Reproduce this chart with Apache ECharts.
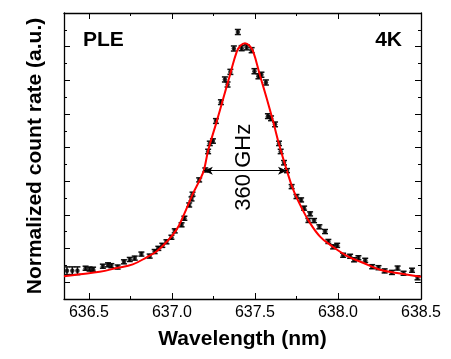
<!DOCTYPE html>
<html>
<head>
<meta charset="utf-8">
<script src="https://cdn.jsdelivr.net/npm/echarts@6/dist/echarts.min.js"></script>
<style>
  html, body { margin: 0; padding: 0; background: #fff; }
  #chart { width: 451px; height: 359px; }
</style>
</head>
<body>
<div id="chart"></div>
<script>
// PLE scan: wavelength (nm), normalized count rate (a.u.), error bar half height
const wavelengths = [
  636.368, 636.400, 636.431, 636.480, 636.504, 636.525, 636.584, 636.615, 636.635, 636.673,
  636.711, 636.746, 636.776, 636.816, 636.866, 636.896, 636.918, 636.942, 636.967, 636.997,
  637.017, 637.058, 637.075, 637.104, 637.118, 637.124, 637.164, 637.201, 637.218, 637.228,
  637.247, 637.265, 637.295, 637.319, 637.335, 637.352, 637.373, 637.397, 637.420, 637.450,
  637.480, 637.497, 637.521, 637.539, 637.566, 637.578, 637.597, 637.621, 637.645, 637.655,
  637.675, 637.693, 637.721, 637.750, 637.778, 637.796, 637.822, 637.832, 637.856, 637.888,
  637.922, 637.942, 637.971, 637.995, 638.031, 638.073, 638.097, 638.123, 638.164, 638.206,
  638.244, 638.281, 638.325, 638.359, 638.395, 638.446, 638.479
]
const counts = [
  1.68, 1.68, 1.68, 1.83, 1.78, 1.77, 1.95, 2.03, 1.98, 1.90,
  2.21, 2.35, 2.43, 2.67, 2.55, 2.82, 3.01, 3.19, 3.40, 3.67,
  4.05, 4.41, 4.80, 5.59, 5.95, 6.23, 7.08, 7.67, 8.77, 9.25,
  9.39, 10.58, 11.70, 13.05, 12.75, 13.50, 14.89, 15.87, 14.91, 14.96,
  14.79, 13.54, 13.24, 13.33, 12.87, 10.87, 10.74, 10.38, 9.25, 8.77,
  8.10, 7.63, 6.68, 6.09, 5.89, 5.40, 4.67, 5.06, 4.66, 4.29,
  4.01, 3.42, 3.10, 3.19, 2.60, 2.54, 2.33, 2.45, 2.30, 1.92,
  1.86, 1.67, 1.58, 1.84, 1.53, 1.71, 1.26
]
const errors = [
  0.23, 0.23, 0.23, 0.12, 0.12, 0.12, 0.12, 0.12, 0.12, 0.12,
  0.12, 0.12, 0.12, 0.12, 0.12, 0.12, 0.12, 0.12, 0.12, 0.12,
  0.12, 0.12, 0.12, 0.12, 0.12, 0.12, 0.12, 0.12, 0.13, 0.13,
  0.13, 0.14, 0.14, 0.15, 0.15, 0.15, 0.15, 0.15, 0.15, 0.15,
  0.15, 0.15, 0.15, 0.15, 0.15, 0.14, 0.14, 0.14, 0.13, 0.13,
  0.13, 0.12, 0.12, 0.12, 0.12, 0.12, 0.12, 0.12, 0.12, 0.12,
  0.12, 0.12, 0.12, 0.12, 0.12, 0.12, 0.12, 0.12, 0.12, 0.12,
  0.12, 0.12, 0.12, 0.12, 0.12, 0.12, 0.12
]

// red fit
const fitWavelengths = [
  636.35, 636.444, 636.565, 636.667, 636.764, 636.848, 636.909, 636.969, 637.027, 637.067,
  637.128, 637.168, 637.192, 637.219, 637.269, 637.309, 637.349, 637.390, 637.412, 637.440,
  637.467, 637.490, 637.530, 637.571, 637.610, 637.648, 637.691, 637.731, 637.782, 637.832,
  637.892, 637.953, 638.053, 638.154, 638.254, 638.355, 638.5
]
const fitCounts = [
  1.35, 1.47, 1.62, 1.84, 2.06, 2.48, 2.84, 3.40, 4.11, 4.90,
  6.29, 7.08, 7.64, 8.86, 10.53, 11.92, 13.30, 14.69, 15.05, 15.20,
  15.05, 14.69, 13.30, 11.92, 10.53, 9.09, 7.67, 6.48, 5.40, 4.51,
  3.71, 3.22, 2.57, 2.14, 1.74, 1.54, 1.32
]

const xMajorTicks = [636.5, 637.0, 637.5, 638.0, 638.5]
const xMinorTicks = [636.75, 637.25, 637.75, 638.25]
const yMajorTicks = [1, 3, 5, 7, 9, 11, 13, 15, 17]
const yMinorTicks = [2, 4, 6, 8, 10, 12, 14, 16]

// FWHM arrow (nm) and its height
const fwhmEnds = [637.192, 637.693]
const fwhmLevel = 7.63
const fwhmText = '360 GHz'

const xMin = 636.35
const xMax = 638.5
const yMin = 0
const yMax = 17
const font = '"Liberation Sans", Arial, sans-serif'

const chart = echarts.init(document.getElementById('chart'))

const gridRect = { left: 64, right: 30, top: 13, bottom: 60 }

function xAxisOf(gridIndex, position, ticks, len, main) {
  return {
    type: 'value',
    gridIndex: gridIndex,
    position: position,
    min: xMin,
    max: xMax,
    axisLine: { show: main, onZero: false, lineStyle: { color: '#000', width: 1.3 } },
    axisTick: { show: true, inside: true, length: len, customValues: ticks, lineStyle: { color: '#000', width: 1 } },
    axisLabel: { show: false },
    splitLine: { show: false }
  }
}

function yAxisOf(gridIndex, position, ticks, len, main) {
  return {
    type: 'value',
    gridIndex: gridIndex,
    position: position,
    min: yMin,
    max: yMax,
    axisLine: { show: main, onZero: false, lineStyle: { color: '#000', width: 1.3 } },
    axisTick: { show: true, inside: true, length: len, customValues: ticks, lineStyle: { color: '#000', width: 1 } },
    axisLabel: { show: false },
    splitLine: { show: false }
  }
}

const xBottom = xAxisOf(0, 'bottom', xMajorTicks, 6, true)
xBottom.axisLabel = {
  show: true,
  customValues: xMajorTicks,
  margin: 6,
  color: '#000',
  fontSize: 16,
  fontFamily: font,
  formatter: v => v.toFixed(1)
}
xBottom.name = 'Wavelength (nm)'
xBottom.nameLocation = 'middle'
xBottom.nameGap = 30
xBottom.nameTextStyle = { color: '#000', fontSize: 21, fontWeight: 'bold', fontFamily: font }

const yLeft = yAxisOf(0, 'left', yMajorTicks, 6, true)
yLeft.name = 'Normalized count rate (a.u.)'
yLeft.nameLocation = 'middle'
yLeft.nameGap = 18
yLeft.nameRotate = 90
yLeft.nameTextStyle = { color: '#000', fontSize: 21, fontWeight: 'bold', fontFamily: font }

const points = wavelengths.map((w, i) => [w, counts[i], errors[i]])
const fit = fitWavelengths.map((w, i) => [w, fitCounts[i]])

const option = {
  animation: false,
  backgroundColor: '#fff',
  grid: [
    Object.assign({}, gridRect),
    Object.assign({}, gridRect)
  ],
  xAxis: [
    xBottom,
    xAxisOf(0, 'top', xMajorTicks, 6, true),
    xAxisOf(1, 'bottom', xMinorTicks, 3, false),
    xAxisOf(1, 'top', xMinorTicks, 3, false)
  ],
  yAxis: [
    yLeft,
    yAxisOf(0, 'right', yMajorTicks, 6, true),
    yAxisOf(1, 'left', yMinorTicks, 3, false),
    yAxisOf(1, 'right', yMinorTicks, 3, false)
  ],
  series: [
    {
      type: 'custom',
      name: 'error',
      xAxisIndex: 0,
      yAxisIndex: 0,
      data: points,
      encode: { x: 0, y: 1 },
      z: 2,
      renderItem(params, api) {
        const x = api.value(0)
        const y = api.value(1)
        const e = api.value(2)
        const hi = api.coord([x, y + e])
        const lo = api.coord([x, y - e])
        const cap = 3
        const style = { stroke: '#111', lineWidth: 1.5 }
        return {
          type: 'group',
          children: [
            { type: 'line', shape: { x1: hi[0], y1: hi[1], x2: lo[0], y2: lo[1] }, style: style },
            { type: 'line', shape: { x1: hi[0] - cap, y1: hi[1], x2: hi[0] + cap, y2: hi[1] }, style: style },
            { type: 'line', shape: { x1: lo[0] - cap, y1: lo[1], x2: lo[0] + cap, y2: lo[1] }, style: style }
          ]
        }
      }
    },
    {
      type: 'scatter',
      name: 'PLE',
      xAxisIndex: 0,
      yAxisIndex: 0,
      data: points.map(p => [p[0], p[1]]),
      symbol: 'circle',
      symbolSize: 4.5,
      itemStyle: { color: '#000' },
      z: 3
    },
    {
      type: 'line',
      name: 'fit',
      xAxisIndex: 0,
      yAxisIndex: 0,
      data: fit,
      smooth: 0.4,
      showSymbol: false,
      lineStyle: { color: '#ff0000', width: 2 },
      z: 4
    },
    {
      type: 'line',
      name: 'fwhm',
      xAxisIndex: 0,
      yAxisIndex: 0,
      data: [],
      z: 5,
      markLine: {
        silent: true,
        symbol: ['arrow', 'arrow'],
        symbolSize: [6, 9],
        label: { show: false },
        lineStyle: { color: '#000', width: 1, type: 'solid' },
        data: [[{ coord: [fwhmEnds[0], fwhmLevel] }, { coord: [fwhmEnds[1], fwhmLevel] }]]
      }
    }
  ]
}

chart.setOption(option)

// rotated width label sits over the middle of the arrow
const mid = chart.convertToPixel({ xAxisIndex: 0, yAxisIndex: 0 }, [(fwhmEnds[0] + fwhmEnds[1]) / 2, fwhmLevel + 0.2])
chart.setOption({
  graphic: [
    {
      type: 'text',
      x: mid[0] - 1,
      y: mid[1],
      rotation: Math.PI / 2,
      style: {
        text: fwhmText,
        fill: '#000',
        fontSize: 22,
        fontFamily: font,
        textAlign: 'center',
        align: 'center',
        textVerticalAlign: 'middle',
        verticalAlign: 'middle'
      }
    },
    {
      type: 'text',
      x: 83,
      y: 40,
      style: {
        text: 'PLE',
        fill: '#000',
        fontSize: 21,
        fontWeight: 'bold',
        fontFamily: font,
        textAlign: 'left',
        align: 'left',
        textVerticalAlign: 'middle',
        verticalAlign: 'middle'
      }
    },
    {
      type: 'text',
      x: 402,
      y: 40,
      style: {
        text: '4K',
        fill: '#000',
        fontSize: 21,
        fontWeight: 'bold',
        fontFamily: font,
        textAlign: 'right',
        align: 'right',
        textVerticalAlign: 'middle',
        verticalAlign: 'middle'
      }
    }
  ]
})
</script>
</body>
</html>
